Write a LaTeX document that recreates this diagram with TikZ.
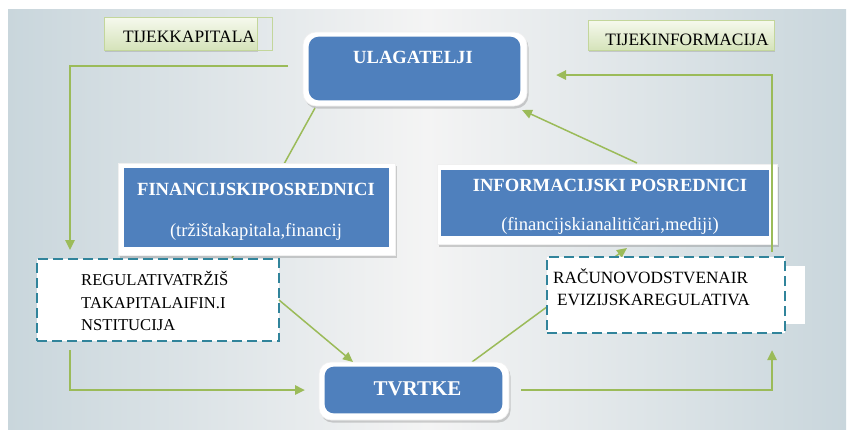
\documentclass[tikz,border=0pt]{standalone}
\usepackage{fontspec}
\setmainfont{Liberation Serif}
\usetikzlibrary{arrows.meta,shadows}
\definecolor{grn}{HTML}{9BBB59}
\definecolor{bbox}{HTML}{4F80BD}
\definecolor{dteal}{HTML}{31849B}
\definecolor{bgedge}{HTML}{C9D6DC}
\definecolor{bgmid}{HTML}{F4F4F4}
\definecolor{lgtop}{HTML}{F6F9EE}
\definecolor{lgbot}{HTML}{D5E3BA}
\definecolor{lgline}{HTML}{C3D69B}
\begin{document}
\begin{tikzpicture}[x=1pt,y=-1pt,
  outerbox/.style={fill=white, draw=white!88!gray, line width=0.6pt,
    drop shadow={shadow xshift=1.5pt,shadow yshift=-2.5pt,opacity=0.35}},
  innerfill/.style={fill=bbox},
  dashbox/.style={fill=white, draw=dteal, line width=2.8pt, dash pattern=on 10pt off 5pt},
  labelbox/.style={top color=lgtop, bottom color=lgbot, draw=lgline, line width=0.8pt,
    drop shadow={shadow xshift=1pt,shadow yshift=-2pt,opacity=0.3}},
  thickline/.style={draw=grn, line width=2.4pt},
  thinline/.style={draw=grn, line width=1.5pt},
  tip/.style={-{Triangle[length=10pt,width=9pt]}},
  boldw/.style={text=white, font=\bfseries\fontsize{18.6}{20}\selectfont, anchor=base, inner sep=0pt},
  regw/.style={text=white, font=\fontsize{18.6}{20}\selectfont, anchor=base, inner sep=0pt},
  bodyt/.style={font=\fontsize{16.6}{18}\selectfont, anchor=base west, inner sep=0pt},
  labt/.style={font=\fontsize{17.4}{19}\selectfont, anchor=base, inner sep=0pt}
]
\useasboundingbox (0,0) rectangle (848,429);
% background panel
\shade[left color=bgedge,right color=bgedge,middle color=bgmid] (8,9) rectangle (846,429);

% connectors that pass behind boxes
\coordinate (u1) at (315,108);
\coordinate (r1) at (232,258);
\draw[thinline] (u1) -- (r1);
\coordinate (t1) at (472,362);
\coordinate (i1) at (627,248);
\draw[thinline,tip] (t1) -- (i1);

% flow labels
\draw[draw=lgline, line width=0.8pt] (104,17) rectangle (272,50);
\node[labelbox, minimum width=153pt, minimum height=33pt, inner sep=0pt] (kap) at (180.5,33.5) {};
\node[labt] (kapt) at (189,42.5) {TIJEKKAPITALA};
\node[labelbox, minimum width=186pt, minimum height=30pt, inner sep=0pt] (inf) at (681,35) {};
\node[labt] (inft) at (687,45) {TIJEKINFORMACIJA};

% ULAGATELJI
\node[outerbox, rounded corners=13pt, minimum width=224pt, minimum height=74pt, inner sep=0pt] (ulag) at (415,69) {};
\fill[innerfill, rounded corners=10pt] ([shift={(6,5)}]ulag.north west) rectangle ([shift={(-7,-6)}]ulag.south east);
\node[boldw] (ulagt) at (413,63) {ULAGATELJI};

% FINANCIJSKI POSREDNICI
\node[outerbox, minimum width=277pt, minimum height=92pt, inner sep=0pt] (fin) at (256.5,209) {};
\fill[innerfill] ([shift={(6,5)}]fin.north west) rectangle ([shift={(-6,-8)}]fin.south east);
\node[boldw] (fint) at (256,195) {FINANCIJSKIPOSREDNICI};
\node[regw] (fins) at (256,236) {(tržištakapitala,financij};

% INFORMACIJSKI POSREDNICI
\node[outerbox, minimum width=340pt, minimum height=80pt, inner sep=0pt] (info) at (607,204) {};
\fill[innerfill] ([shift={(4,6)}]info.north west) rectangle ([shift={(-8,-8)}]info.south east);
\node[boldw] (infot) at (610,191) {INFORMACIJSKI POSREDNICI};
\node[regw] (infos) at (610,230) {(financijskianalitičari,mediji)};

% REGULATIVA box
\node[dashbox, minimum width=242pt, minimum height=82pt, inner sep=0pt] (reg) at (158,300) {};
\node[bodyt] (reg1) at (81,285) {REGULATIVATRŽIŠ};
\node[bodyt] (reg2) at (81,308) {TAKAPITALAIFIN.I};
\node[bodyt] (reg3) at (81,330.5) {NSTITUCIJA};

% RACUNOVODSTVENA box
\fill[white] (560,266) rectangle (805,324);
\node[dashbox, minimum width=238pt, minimum height=76pt, inner sep=0pt] (rac) at (666,295) {};
\node[bodyt, font=\fontsize{17.2}{19}\selectfont] (rac1) at (553,283) {RAČUNOVODSTVENAIR};
\node[bodyt, font=\fontsize{17.2}{19}\selectfont] (rac2) at (557,305) {EVIZIJSKAREGULATIVA};

% TVRTKE
\node[outerbox, rounded corners=12pt, minimum width=190pt, minimum height=58pt, inner sep=0pt] (tv) at (414,391) {};
\fill[innerfill, rounded corners=9pt] ([shift={(6,5)}]tv.north west) rectangle ([shift={(-7,-7)}]tv.south east);
\node[boldw, font=\bfseries\fontsize{21}{23}\selectfont] (tvt) at (417.5,395) {TVRTKE};

% connectors on top
\coordinate (k1) at (288,66);
\coordinate (k2) at (70,250);
\draw[thickline,tip] (k1) -| (k2);
\coordinate (r2) at (279,300);
\coordinate (t2) at (353,362);
\draw[thinline,tip] (r2) -- (t2);
\coordinate (r3) at (70,350);
\coordinate (t3) at (305,390);
\draw[thickline,tip] (r3) |- (t3);
\coordinate (t4) at (521,390);
\coordinate (c4) at (772,350);
\draw[thickline,tip] (t4) -| (c4);
\coordinate (i2) at (637,163);
\coordinate (u2) at (522,110);
\draw[thinline,tip] (i2) -- (u2);
\coordinate (c5) at (772,252);
\coordinate (u3) at (556,75);
\draw[thickline,tip] (c5) |- (u3);
\end{tikzpicture}
\end{document}
